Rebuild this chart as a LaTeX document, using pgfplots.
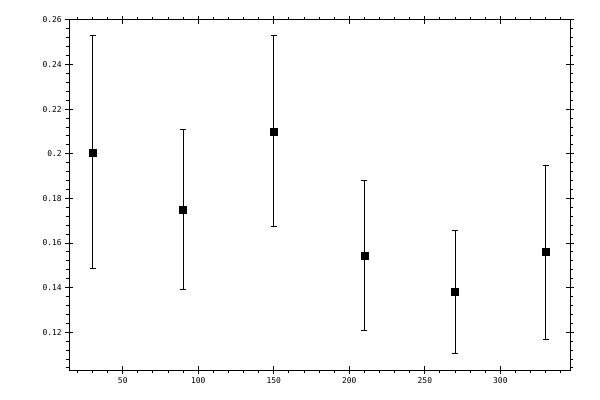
\documentclass[border=0pt]{standalone}
\usepackage{fontspec}
\setmainfont{DejaVu Sans Mono}
\usepackage{pgfplots}
\usepackage{pgfplotstable}
\pgfplotsset{compat=1.18}

\pgfplotstableread{
x    y       ep      em
30   0.2007  0.0524  0.0519
90   0.1751  0.0359  0.0358
150  0.2101  0.0430  0.0426
210  0.1545  0.0336  0.0336
270  0.1384  0.0273  0.0277
330  0.1560  0.0389  0.0391
}\datatable

\def\xlo{14.6}
\def\xhi{346.1}
\def\ylo{0.1031}
\def\yhi{0.26}

\begin{document}
\begin{tikzpicture}[tk/.style={line width=1bp}]
\useasboundingbox (0,0) rectangle (600bp,400bp);
\begin{axis}[
    at={(69.3bp,30bp)}, anchor=south west,
    scale only axis,
    width=500.7bp, height=350bp,
    xmin=\xlo, xmax=\xhi,
    ymin=\ylo, ymax=\yhi,
    xtick={50,100,...,300},
    ytick={0.12,0.14,...,0.26},
    major tick length=0pt,
    xticklabel shift=4bp,
    yticklabel shift=4bp,
    clip=false,
    axis line style={line width=1bp},
    /pgf/number format/assume math mode=true,
    tick label style={font=\fontsize{8}{8}\selectfont},
]
\addplot+[only marks, black, mark=square*, mark size=3.5bp,
    mark options={fill=black},
    error bars/.cd, y dir=both, y explicit,
    error bar style={line width=1bp, black},
    error mark options={rotate=90, mark size=3bp, line width=1bp, black}]
    table[x=x, y=y, y error plus=ep, y error minus=em] {\datatable};
% tick marks: minor ones outward, major ones across the frame
\pgfplotsinvokeforeach{20,30,40,60,70,80,90,110,120,130,140,160,170,180,190,
    210,220,230,240,260,270,280,290,310,320,330,340}{
    \draw[tk] (axis cs:#1,\ylo) -- ([yshift=-3bp]axis cs:#1,\ylo);
    \draw[tk] (axis cs:#1,\yhi) -- ([yshift=3bp]axis cs:#1,\yhi);
}
\pgfplotsinvokeforeach{50,100,150,200,250,300}{
    \draw[tk] ([yshift=-4bp]axis cs:#1,\ylo) -- ([yshift=4bp]axis cs:#1,\ylo);
    \draw[tk] ([yshift=-4bp]axis cs:#1,\yhi) -- ([yshift=4bp]axis cs:#1,\yhi);
}
\pgfplotsinvokeforeach{0.104,0.108,0.112,0.116,0.124,0.128,0.132,0.136,
    0.144,0.148,0.152,0.156,0.164,0.168,0.172,0.176,0.184,0.188,0.192,0.196,
    0.204,0.208,0.212,0.216,0.224,0.228,0.232,0.236,0.244,0.248,0.252,0.256}{
    \draw[tk] (axis cs:\xlo,#1) -- ([xshift=-3bp]axis cs:\xlo,#1);
    \draw[tk] (axis cs:\xhi,#1) -- ([xshift=3bp]axis cs:\xhi,#1);
}
\pgfplotsinvokeforeach{0.12,0.14,0.16,0.18,0.2,0.22,0.24,0.26}{
    \draw[tk] ([xshift=-4bp]axis cs:\xlo,#1) -- ([xshift=4bp]axis cs:\xlo,#1);
    \draw[tk] ([xshift=-4bp]axis cs:\xhi,#1) -- ([xshift=4bp]axis cs:\xhi,#1);
}
\end{axis}
\end{tikzpicture}
\end{document}
